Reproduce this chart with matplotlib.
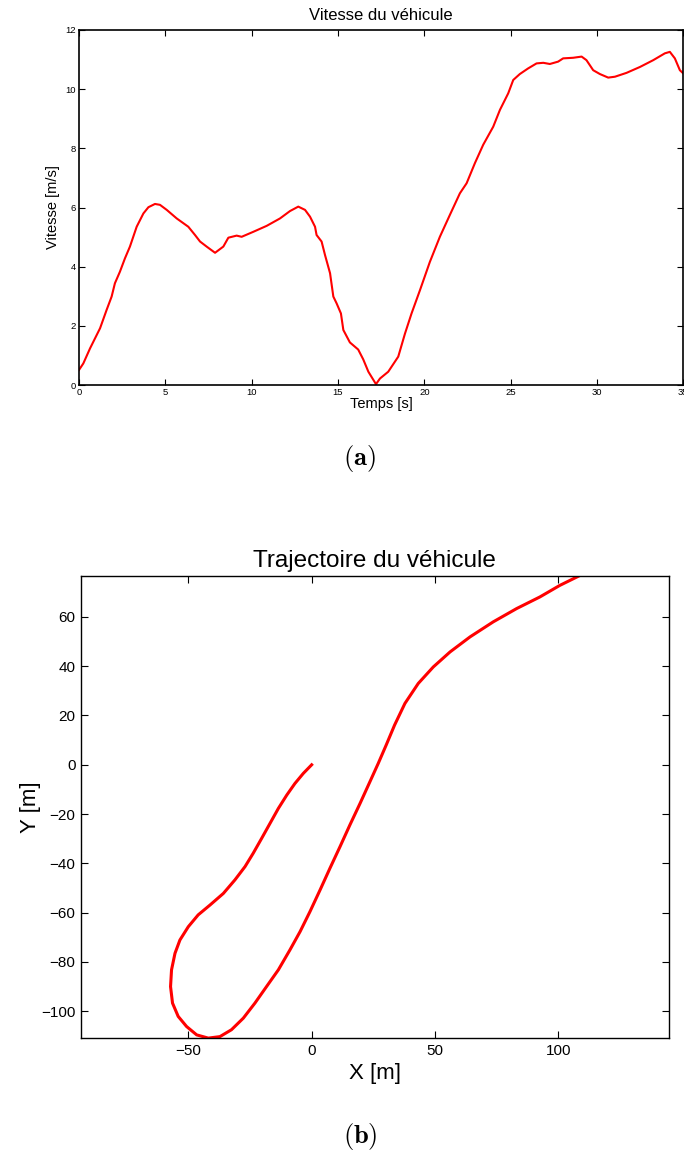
import numpy as np
import matplotlib
matplotlib.use("Agg")
from matplotlib import pyplot as plt

plt.rcParams['font.family'] = ['Liberation Sans', 'DejaVu Sans']
plt.rcParams['mathtext.fontset'] = 'cm'

# vehicle speed over time
t = [0.0, 0.25, 0.64, 0.93, 1.22, 1.6, 1.89, 2.08, 2.37, 2.66, 2.95, 3.34, 3.73,
     4.02, 4.4, 4.69, 5.08, 5.66, 6.33, 6.72, 7.01, 7.39, 7.88, 8.36, 8.65, 9.13,
     9.42, 10.1, 10.87, 11.64, 12.22, 12.7, 13.09, 13.38, 13.67, 13.76, 14.05,
     14.25, 14.54, 14.73, 14.92, 15.17, 15.31, 15.69, 16.17, 16.46, 16.76, 17.2,
     17.43, 17.91, 18.49, 18.88, 19.26, 19.75, 20.32, 20.9, 21.48, 22.06, 22.45,
     22.93, 23.41, 23.99, 24.38, 24.86, 25.15, 25.53, 26.01, 26.5, 26.89, 27.27,
     27.75, 28.04, 28.62, 29.11, 29.39, 29.78, 30.17, 30.65, 31.04, 31.71, 32.49,
     33.26, 33.93, 34.22, 34.51, 34.8, 35.0]
v = [0.51, 0.73, 1.24, 1.58, 1.92, 2.54, 2.99, 3.44, 3.83, 4.28, 4.68, 5.35, 5.8,
     6.01, 6.12, 6.09, 5.92, 5.63, 5.35, 5.07, 4.85, 4.68, 4.47, 4.68, 4.98, 5.05,
     5.01, 5.18, 5.38, 5.63, 5.88, 6.03, 5.92, 5.69, 5.35, 5.07, 4.85, 4.39, 3.78,
     2.99, 2.76, 2.42, 1.86, 1.44, 1.2, 0.87, 0.45, 0.03, 0.22, 0.45, 0.96, 1.74,
     2.42, 3.21, 4.16, 5.01, 5.75, 6.48, 6.82, 7.5, 8.12, 8.73, 9.3, 9.86, 10.31,
     10.51, 10.7, 10.87, 10.89, 10.85, 10.93, 11.04, 11.06, 11.1, 10.98, 10.64,
     10.51, 10.39, 10.42, 10.55, 10.75, 10.98, 11.21, 11.26, 11.04, 10.64, 10.53]

# vehicle path in the plane (X, Y in metres)
x_traj = [0.0, -3.4, -6.8, -10.1, -13.5, -16.9, -20.3, -23.7, -27.0, -31.1, -35.8,
          -41.2, -46.0, -50.0, -53.4, -55.4, -56.8, -57.2, -56.4, -54.1, -50.7,
          -46.6, -41.9, -37.2, -32.5, -27.7, -23.0, -18.3, -13.5, -8.8, -4.7, -0.7,
          3.4, 7.4, 11.5, 15.5, 19.6, 23.6, 27.0, 30.2, 33.6, 37.8, 43.2, 49.3,
          56.1, 64.2, 73.6, 83.1, 92.5, 100.6, 108.1]
y_traj = [0.0, -3.5, -7.6, -12.3, -17.7, -23.8, -29.9, -35.9, -41.3, -46.7, -52.2,
          -56.9, -60.9, -65.7, -71.1, -76.5, -83.2, -90.0, -96.7, -102.1, -106.2,
          -109.6, -110.9, -110.3, -107.5, -102.8, -96.7, -90.0, -83.2, -75.1, -67.7,
          -59.6, -50.8, -42.0, -33.2, -24.4, -15.7, -6.9, 0.6, 8.0, 16.1, 24.9,
          33.0, 39.7, 45.8, 51.9, 58.0, 63.4, 68.1, 72.8, 76.5]

fig = plt.figure(figsize=(6.84, 11.75), dpi=100)

# (a) speed
ax1 = fig.add_axes([0.1155, 0.6723, 0.8835, 0.3022])
ax1.plot(t, v, color='red', lw=1.5)
ax1.set_xlim(0, 35)
ax1.set_ylim(0, 12)
ax1.set_xticks(np.arange(0, 36, 5))
ax1.set_yticks(np.arange(0, 13, 2))
ax1.tick_params(direction='in', top=True, right=True, length=4, labelsize=6.8,
                width=0.8, pad=2)
for s in ax1.spines.values():
    s.set_linewidth(1.2)
ax1.set_title("Vitesse du véhicule", fontsize=12, pad=7)
ax1.set_xlabel("Temps [s]", fontsize=10.5, labelpad=0)
ax1.set_ylabel("Vitesse [m/s]", fontsize=10.5, labelpad=4)
fig.text(0.526, 1 - 458 / 1175, r"$\mathbf{(a)}$", ha='center', va='center', fontsize=19)

# (b) trajectory
ax2 = fig.add_axes([0.1184, 0.1163, 0.8592, 0.3937])
ax2.plot(x_traj, y_traj, color='red', lw=2.2)
ax2.set_xlim(-93.5, 144.7)
ax2.set_ylim(-111, 76.7)
ax2.set_xticks([-50, 0, 50, 100])
ax2.set_yticks(np.arange(-100, 61, 20))
ax2.tick_params(direction='in', top=True, right=True, length=5, labelsize=11,
                width=0.8, pad=4)
for s in ax2.spines.values():
    s.set_linewidth(1.0)
ax2.set_title("Trajectoire du véhicule", fontsize=17.5, pad=6)
ax2.set_xlabel("X [m]", fontsize=16, labelpad=4)
ax2.set_ylabel("Y [m]", fontsize=16, labelpad=0)
fig.text(0.526, 1 - 1136 / 1175, r"$\mathbf{(b)}$", ha='center', va='center', fontsize=19)

fig.savefig("out.png", dpi=100)
